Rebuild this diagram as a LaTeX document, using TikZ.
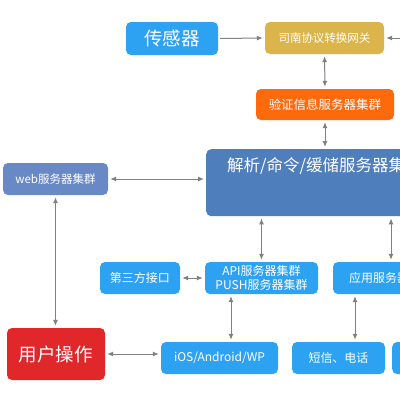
\documentclass[tikz,border=0pt]{standalone}
\usepackage{fontspec}
\setmainfont{Noto Sans CJK SC}
\usetikzlibrary{arrows.meta}
\definecolor{skyb}{HTML}{2EA2F2}
\definecolor{gold}{HTML}{DBB54B}
\definecolor{orng}{HTML}{FC6A0C}
\definecolor{steel}{HTML}{4F7EBD}
\definecolor{webc}{HTML}{6889C6}
\definecolor{redc}{HTML}{E0282A}
\definecolor{arrc}{HTML}{808080}
\tikzset{
  box/.style={rectangle, rounded corners=5pt, inner sep=0pt, text=white, minimum height=32pt},
  small/.style={font=\fontsize{12}{14}\selectfont},
  big/.style={font=\fontsize{18.5}{20}\selectfont},
  conn/.style={draw=arrc, line width=1pt, shorten <=2pt, shorten >=2pt},
  both/.style={conn, {Latex[length=6pt,width=5pt]}-{Latex[length=6pt,width=5pt]}},
  one/.style={conn, -{Latex[length=6pt,width=5pt]}}
}
\begin{document}
\begin{tikzpicture}[x=1pt,y=-1pt]
\useasboundingbox (0,0) rectangle (400,400);
\fill[white] (0,0) rectangle (400,400);
\clip (0,0) rectangle (400,400);
% top row
\node[box, big, fill=skyb, minimum width=92pt, minimum height=33pt] (sensor) at (172,38.5) {传感器};
\node[box, small, fill=gold, minimum width=119pt, font=\fontsize{11.5}{13}\selectfont] (gw) at (324.5,38) {司南协议转换网关};
\node[box, small, fill=orng, minimum width=138pt, minimum height=31pt, font=\fontsize{12.5}{14}\selectfont] (verify) at (325,104.5) {验证信息服务器集群};
% middle
\node[box, fill=steel, minimum width=260pt, minimum height=67pt, anchor=north west] (parse) at (206,149) {};
\node[anchor=west, inner sep=0pt, text=white, font=\fontsize{16.5}{18}\selectfont] (parsetxt) at (227,166) {解析/命令/缓储服务器集群};
\node[box, fill=webc, minimum width=105pt, font=\fontsize{11.5}{13}\selectfont] (web) at (55.5,179) {web服务器集群};
% lower row
\node[box, small, fill=skyb, minimum width=80pt] (third) at (140,278) {第三方接口};
\node[box, small, fill=skyb, minimum width=113pt, align=center, font=\fontsize{12}{13.5}\selectfont] (api) at (261.5,278) {API服务器集群\\PUSH服务器集群};
\node[box, small, fill=skyb, minimum width=116pt] (app) at (391,278) {应用服务器集群};
% bottom row
\node[box, big, fill=redc, minimum width=98pt, minimum height=52pt] (user) at (56,354) {用户操作};
\node[box, small, fill=skyb, minimum width=117pt] (ios) at (219.5,358) {iOS/Android/WP};
\node[box, small, fill=skyb, minimum width=93pt] (sms) at (338.5,358) {短信、电话};
\node[box, fill=skyb, minimum width=100pt, anchor=west] (extra) at (392,358) {};
\coordinate (rin) at (410,38);
% connectors
\draw[one] (sensor.east) -- (gw.west);
\draw[one] (rin) -- (gw.east);
\draw[both] (gw.south) -- (verify.north);
\draw[both] (verify.south) -- (verify.south |- parse.north);
\draw[both] (web.east) -- (web.east -| parse.west);
\draw[both] (web.south) -- (web.south |- user.north);
\draw[both] (api.north |- parse.south) -- (api.north);
\draw[both] (app.north |- parse.south) -- (app.north);
\draw[both] (third.east) -- (api.west);
\draw[both] (api.south -| 231,0) -- (ios.north -| 231,0);
\draw[both] (app.south -| 355,0) -- (sms.north -| 355,0);
\draw[both] (user.east) -- (user.east -| ios.west);
\end{tikzpicture}
\end{document}
